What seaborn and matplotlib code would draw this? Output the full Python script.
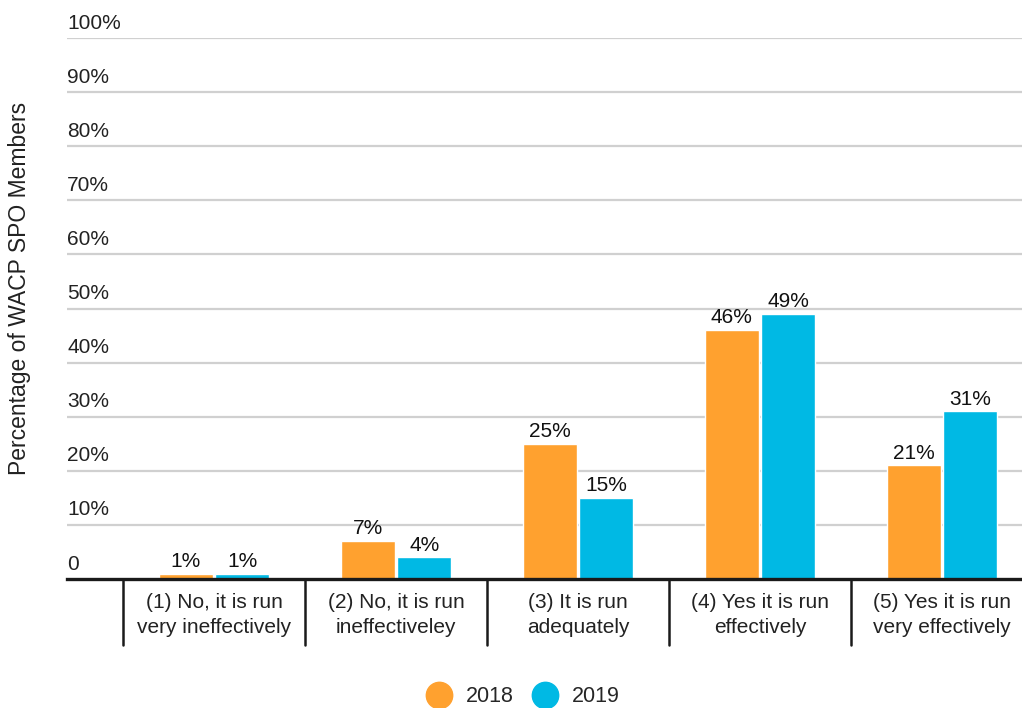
import pandas as pd
import numpy as np
import matplotlib
matplotlib.use('Agg')
import matplotlib.pyplot as plt
import matplotlib.transforms as mtransforms
from matplotlib.lines import Line2D
import seaborn as sns

sns.set_style('white')
plt.rcParams['font.family'] = ['Liberation Sans', 'DejaVu Sans']

categories = ['(1) No, it is run\nvery ineffectively',
              '(2) No, it is run\nineffectiveley',
              '(3) It is run\nadequately',
              '(4) Yes it is run\neffectively',
              '(5) Yes it is run\nvery effectively']
values_2018 = [1, 7, 25, 46, 21]
values_2019 = [1, 4, 15, 49, 31]
years = ['2018', '2019']
yticks = [0, 10, 20, 30, 40, 50, 60, 70, 80, 90, 100]
colors = {'2018': '#ffa12f', '2019': '#00b9e4'}

df = pd.DataFrame({
    'category': categories * 2,
    'year': ['2018'] * len(categories) + ['2019'] * len(categories),
    'value': values_2018 + values_2019,
})

fig = plt.figure(figsize=(10.22, 7.08), dpi=100)
ax = fig.add_axes([67 / 1022, 1 - 579 / 708, 955 / 1022, 541 / 708])

# grid lines
for t in yticks[1:]:
    ax.axhline(t, color='#d0d0d0', lw=1.6, zorder=0)

sns.barplot(data=df, x='category', y='value', hue='year', palette=colors,
            width=0.62, gap=0.04, ax=ax, legend=False, saturation=1, zorder=2)

for cont in ax.containers:
    ax.bar_label(cont, labels=[f'{v:.0f}%' for v in cont.datavalues],
                 padding=2, fontsize=15, color='#111111')

ax.set_ylim(0, 100)
ax.set_xlim(-0.808, 4.44)
ax.set_yticks([])
ax.set_xticks([])
ax.set_xlabel('')
ax.set_ylabel('')
for s in ['top', 'right', 'left']:
    ax.spines[s].set_visible(False)
ax.spines['bottom'].set_linewidth(2.4)
ax.spines['bottom'].set_color('#1a1a1a')

# y tick labels above grid lines
trans = mtransforms.blended_transform_factory(ax.transAxes, ax.transData)
for t in yticks:
    lab = '0' if t == 0 else f'{t}%'
    ax.text(0.0, t + 1.0, lab, transform=trans, ha='left', va='bottom',
            fontsize=15, color='#222222')

# category separators and labels below axis
trans2 = mtransforms.blended_transform_factory(ax.transData, ax.transAxes)
sep_bottom = -66 / 541
for i, cat in enumerate(categories):
    ax.plot([i - 0.5, i - 0.5], [0, sep_bottom], transform=trans2,
            color='#1a1a1a', lw=1.8, clip_on=False)
    ax.text(i, -14 / 541, cat, transform=trans2, ha='center', va='top',
            fontsize=15, color='#222222', linespacing=1.4)

ax.text(-47 / 955, (579 - 288) / 541, 'Percentage of WACP SPO Members',
        transform=ax.transAxes, rotation=90, ha='center', va='center',
        fontsize=16.5, color='#222222')

handles = [Line2D([], [], marker='o', ls='', markersize=19,
                  markerfacecolor=colors[y], markeredgecolor=colors[y]) for y in years]
fig.legend(handles, years, loc='center', bbox_to_anchor=(522 / 1022, 1 - 697 / 708),
           ncol=2, frameon=False, fontsize=15.5, handletextpad=0.55,
           columnspacing=0.75, handlelength=1.4)

fig.savefig('out.png', dpi=100)
